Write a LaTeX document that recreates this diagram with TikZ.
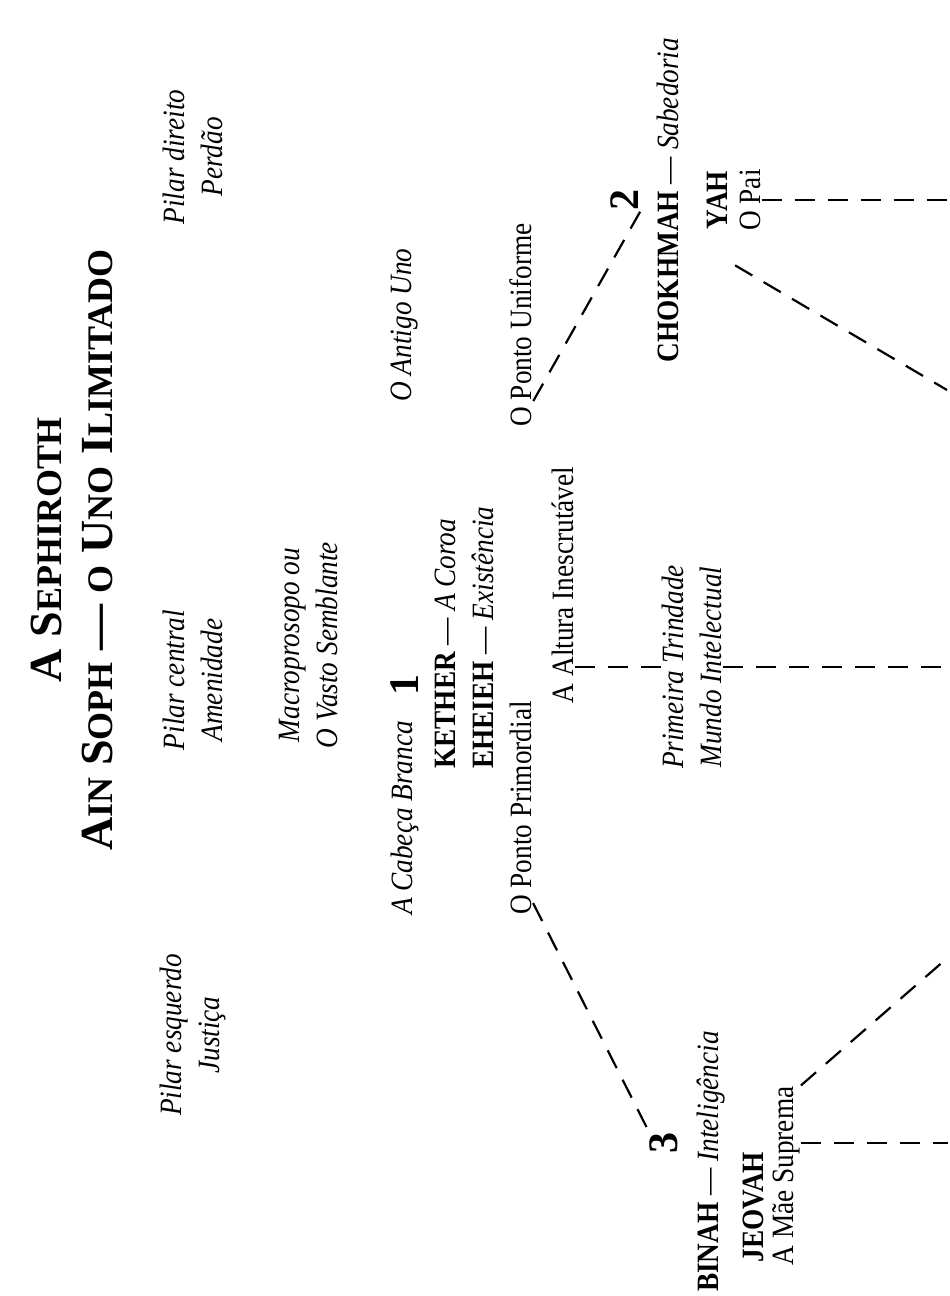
\documentclass[tikz,border=0pt]{standalone}
\usepackage{fontspec}
\setmainfont[FakeStretch=0.88]{Liberation Serif}
\newfontfamily\ttlfont[Ligatures=TeX]{Liberation Serif}
\usetikzlibrary{calc}
\newcommand{\capsc}[2]{#1{\fontsize{36}{40}\selectfont #2}}
\begin{document}
\begin{tikzpicture}[x=1pt,y=-1pt,
  lbl/.style={rotate=90, inner sep=1pt, align=center, font=\fontsize{31}{38}\selectfont},
  itl/.style={lbl, font=\fontsize{31}{38}\selectfont\itshape},
  ttl/.style={rotate=90, inner sep=1pt, font=\ttlfont\fontsize{46}{52}\selectfont\bfseries},
  num/.style={rotate=90, inner sep=1pt, font=\ttlfont\fontsize{42}{42}\selectfont\bfseries},
  dl/.style={line width=2.2pt, dash pattern=on 20pt off 13pt}
]
\useasboundingbox (0,0) rectangle (950,1296);

% title
\node[ttl] (t1) at (46,550) {\capsc{A}{} \capsc{S}{EPHIROTH}};
\node[ttl] (t2) at (97,550) {\capsc{A}{IN} \capsc{S}{OPH} — {\fontsize{36}{40}\selectfont O} \capsc{U}{NO} \capsc{I}{LIMITADO}};

% pillars
\node[itl] (pe) at (193,1035) {Pilar esquerdo\\Justiça};
\node[itl] (pc) at (193,680) {Pilar central\\Amenidade};
\node[itl] (pd) at (193,157) {Pilar direito\\Perdão};

\node[itl] (mac) at (309,645) {Macroprosopo ou\\O Vasto Semblante};

% Kether
\node[num] (n1) at (405,685) {1};
\node[itl] (cab) at (405,818) {A Cabeça Branca};
\node[itl] (ant) at (405,325) {O Antigo Uno};
\node[lbl, anchor=west] (keth) at (445,770) {\textbf{KETHER} — \textit{A Coroa}};
\node[lbl, anchor=west] (ehe) at (483,770) {\textbf{EHEIEH} — \textit{Existência}};
\node[lbl] (pprim) at (521,808) {O Ponto Primordial};
\node[lbl] (punif) at (521,325) {O Ponto Uniforme};
\node[lbl] (alt) at (563,585) {A Altura Inescrutável};
\node[itl] (trin) at (692,667) {Primeira Trindade\\Mundo Intelectual};

% Chokhmah
\node[num] (n2) at (625,200) {2};
\node[lbl] (chok) at (668,200) {\textbf{CHOKHMAH} — \textit{Sabedoria}};
\node[lbl] (yah) at (717,200) {\textbf{YAH}};
\node[lbl] (opai) at (750,200) {O Pai};

% Binah
\node[num] (n3) at (664,1143) {3};
\node[lbl, anchor=west] (bin) at (711,1293) {\textbf{BINAH} — \textit{Inteligência}};
\node[lbl] (jeo) at (753,1207) {\textbf{JEOVAH}};
\node[lbl] (mae) at (786,1176) {A Mãe Suprema};

% free ends at the page edge
\coordinate (eK) at (948,667);
\coordinate (eC) at (948,200);
\coordinate (eCd) at (947,390);
\coordinate (eB) at (948,1143);
\coordinate (eBd) at (945,960);

% connectors
\draw[dl] ($(pprim.south west)!0.06!(pprim.south east)$) -- (n3.north east);
\draw[dl] ($(punif.south west)!0.13!(punif.south east)$) -- (n2.south west);
\draw[dl] (alt.south |- trin) -- (trin.north);
\draw[dl] (trin.south) -- (eK);
\draw[dl] (opai.south |- n2) -- (eC);
\draw[dl] ($(chok.south west)!0.3!(chok.south east)+(55,0)$) -- (eCd);
\draw[dl] (mae.south |- n3) -- (eB);
\draw[dl] (mae.south east) -- (eBd);
\end{tikzpicture}
\end{document}
